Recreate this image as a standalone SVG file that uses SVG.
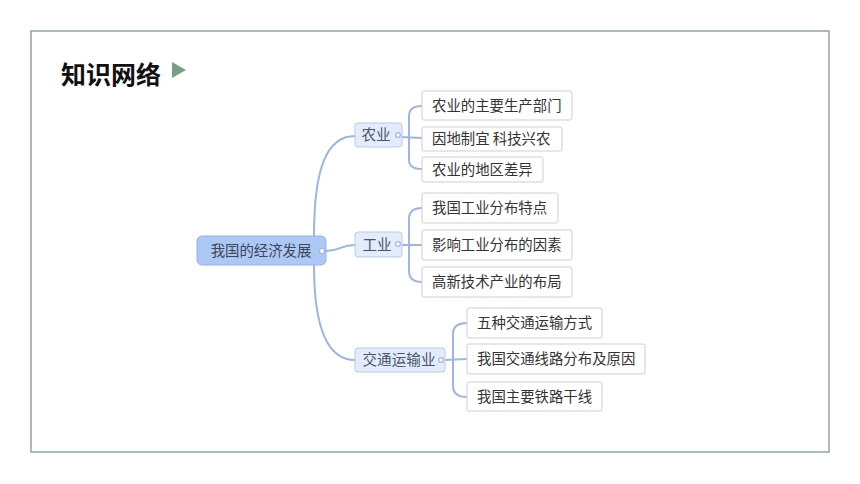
<svg xmlns="http://www.w3.org/2000/svg" width="860" height="484" viewBox="0 0 860 484">
<style>
text{font-family:"Noto Sans CJK SC","Noto Sans",sans-serif;}
.leaf rect{fill:#ffffff;stroke:#cfcfcf;stroke-width:1;}
.leaf text{font-size:14.4px;fill:#333333;}
.branch rect{fill:#e3ecfb;stroke:#b9cbe9;stroke-width:1;}
.branch text{font-size:14.6px;fill:#4a5468;}
.dot{fill:#ffffff;stroke:#a9b6c8;stroke-width:1.2;}
.conn path{fill:none;stroke:#9db5e3;stroke-width:2;}
</style>
<rect x="0" y="0" width="860" height="484" fill="#ffffff"/>
<rect x="31" y="31" width="798" height="421" fill="#ffffff" stroke="#8fa898" stroke-width="1.5"/>
<g id="title">
<text x="61" y="84" font-size="25" font-weight="bold" fill="#111111">知识网络</text>
<polygon points="172,62 186,70 172,78" fill="#7a9e85"/>
</g>
<g class="conn" id="connectors">
<path d="M314,236 C314,170 326,136 355,136"/>
<path d="M326,251 C340,251 340,245 355,245"/>
<path d="M314,265 C314,330 328,360 355,360"/>
<path d="M401,137 L422,138"/>
<path d="M409,137 L409,116 Q409,106 422,106"/>
<path d="M409,137 L409,160 Q409,169 422,169"/>
<path d="M401,245 L422,245"/>
<path d="M409,245 L409,219 Q409,208 422,208"/>
<path d="M409,245 L409,271 Q409,282 422,282"/>
<path d="M444,360 L467,359"/>
<path d="M453,360 L453,334 Q453,323 467,323"/>
<path d="M453,360 L453,386 Q453,397 467,397"/>
</g>
<g id="root">
<rect x="197" y="236" width="129" height="29" rx="5" fill="#aec8f6" stroke="#92b2e9" stroke-width="1"/>
<text x="261" y="256" font-size="14.4" fill="#3e4556" text-anchor="middle">我国的经济发展</text>
<circle class="dot" cx="322" cy="251" r="2.5"/>
</g>
<g class="branch" id="b-agri">
<rect x="355" y="123" width="47" height="24" rx="3"/>
<text x="376" y="140" text-anchor="middle">农业</text>
<circle class="dot" cx="398" cy="135" r="2.3"/>
</g>
<g class="branch" id="b-ind">
<rect x="355" y="232" width="47" height="25" rx="3"/>
<text x="377" y="250" text-anchor="middle">工业</text>
<circle class="dot" cx="398" cy="244" r="2.3"/>
</g>
<g class="branch" id="b-trans">
<rect x="355" y="348" width="90" height="24" rx="3"/>
<text x="399" y="365" text-anchor="middle">交通运输业</text>
<circle class="dot" cx="441" cy="360" r="2.3"/>
</g>
<g class="leaf" id="l1"><rect x="422" y="91" width="150" height="29" rx="2"/><text x="432" y="111">农业的主要生产部门</text></g>
<g class="leaf" id="l2"><rect x="422" y="127" width="140" height="24" rx="2"/><text x="432" y="144">因地制宜 科技兴农</text></g>
<g class="leaf" id="l3"><rect x="422" y="157" width="121" height="25" rx="2"/><text x="432" y="175">农业的地区差异</text></g>
<g class="leaf" id="l4"><rect x="422" y="193" width="136" height="30" rx="2"/><text x="432" y="213">我国工业分布特点</text></g>
<g class="leaf" id="l5"><rect x="422" y="230" width="150" height="30" rx="2"/><text x="432" y="250">影响工业分布的因素</text></g>
<g class="leaf" id="l6"><rect x="422" y="267" width="150" height="30" rx="2"/><text x="432" y="287">高新技术产业的布局</text></g>
<g class="leaf" id="l7"><rect x="467" y="308" width="135" height="30" rx="2"/><text x="477" y="328">五种交通运输方式</text></g>
<g class="leaf" id="l8"><rect x="467" y="344" width="178" height="30" rx="2"/><text x="477" y="364">我国交通线路分布及原因</text></g>
<g class="leaf" id="l9"><rect x="467" y="382" width="135" height="29" rx="2"/><text x="477" y="402">我国主要铁路干线</text></g>
</svg>
